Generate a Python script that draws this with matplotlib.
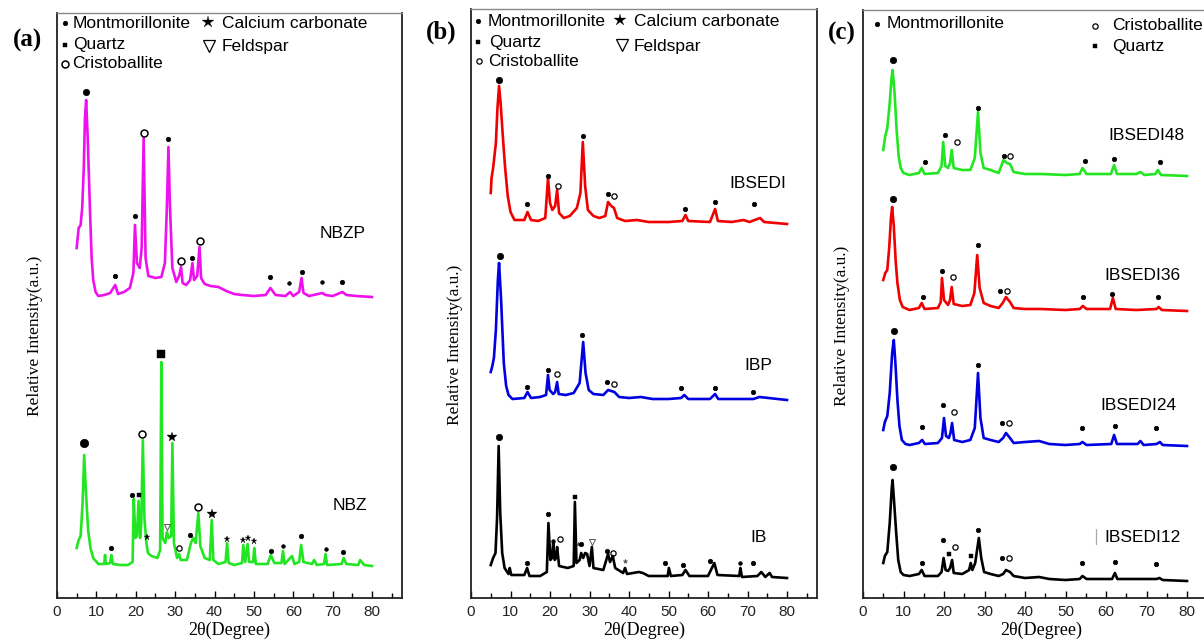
import matplotlib
matplotlib.use('Agg')
import matplotlib.pyplot as plt

W, H = 1204, 640

# ---------------- data ----------------
# traces: (2theta, height above the x axis in pixels)
NBZP = [(5.0, 350), (5.5, 370), (6.0, 373), (6.4, 390), (6.8, 430), (7.1, 480), (7.4, 498), (7.8, 460),
        (8.4, 385), (8.8, 340), (9.2, 318), (9.8, 306), (10.5, 302), (12, 303), (13.5, 305), (14.8, 313),
        (15.5, 304), (17, 306), (18.5, 310), (19.4, 325), (19.8, 373), (20.3, 335), (21.0, 330),
        (21.5, 350), (22.0, 460), (22.5, 340), (23.2, 322), (25, 320), (26.5, 321), (27.4, 335),
        (27.9, 390), (28.3, 451), (28.7, 390), (29.3, 330), (30.3, 316), (31.0, 322), (31.5, 331),
        (31.9, 315), (32.8, 313), (33.8, 318), (34.4, 335), (34.8, 318), (35.6, 322), (36.2, 351),
        (36.6, 320), (37.5, 314), (39, 312), (41, 311), (43, 307), (45, 304), (47, 303),
        (50, 302), (53, 303), (54.2, 310), (55.5, 303), (58, 302), (59.2, 306), (60, 302),
        (61.5, 306), (62.1, 320), (62.6, 305), (64, 302), (67.4, 305), (68.2, 303), (70, 302),
        (72.5, 306), (73.5, 303), (76, 302), (80, 301)]
NBZ = [(5.0, 50), (5.5, 58), (6.0, 62), (6.5, 95), (6.9, 143), (7.3, 110), (7.9, 68), (8.5, 50),
       (9.2, 40), (10.5, 34), (12.0, 34), (12.2, 43), (12.4, 34), (13.5, 35), (13.8, 43), (14.2, 34),
       (16, 33), (18, 33), (19.2, 36), (19.5, 99), (19.9, 60), (20.3, 62), (20.7, 97), (21.1, 60),
       (21.4, 75), (21.8, 158), (22.2, 80), (22.7, 55), (23.1, 45), (24, 42), (25.5, 40),
       (26.2, 48), (26.5, 236), (26.8, 60), (27.5, 55), (27.9, 66), (28.4, 60), (29.0, 62),
       (29.3, 155), (29.7, 55), (30.5, 40), (31.0, 44), (31.4, 38), (33, 38), (34.0, 55),
       (34.6, 60), (35.2, 55), (35.9, 85), (36.4, 52), (37.5, 40), (38.8, 38), (39.3, 78),
       (39.7, 38), (41, 34), (42.8, 36), (43.2, 55), (43.6, 35), (45, 33), (47.0, 35), (47.3, 53),
       (47.8, 36), (48.4, 54), (48.8, 36), (49.8, 36), (50.1, 50), (50.5, 34), (53.5, 34),
       (54.3, 43), (55.2, 35), (57.0, 35), (57.4, 47), (57.8, 34), (59.7, 42), (60.3, 34),
       (61.5, 36), (62.0, 53), (62.6, 36), (64.8, 34), (65.3, 38), (66, 33), (67.8, 34),
       (68.2, 44), (68.6, 33), (72.3, 34), (72.8, 40), (73.5, 34), (76.5, 33), (77, 38),
       (78, 33), (80, 32)]

IBSEDI = [(5.0, 405), (5.2, 420), (5.6, 430), (6.3, 455), (6.7, 490), (7.1, 512), (7.5, 495),
          (8.0, 465), (8.6, 432), (9.3, 402), (10.0, 386), (11.0, 378), (13.5, 378), (14.3, 386),
          (15.2, 378), (17, 377), (18.8, 380), (19.5, 420), (20.0, 395), (20.6, 388), (21.3, 392),
          (21.8, 408), (22.3, 385), (23.5, 380), (25, 382), (26.8, 390), (27.7, 405), (28.3, 456),
          (28.9, 412), (29.6, 388), (31, 382), (32.5, 380), (34.0, 382), (34.7, 396), (35.5, 392),
          (36.2, 390), (37.0, 380), (39, 377), (42, 378), (45, 376), (50, 376), (53.5, 377),
          (54.3, 383), (55, 377), (60.5, 376), (61.8, 389), (62.5, 377), (66, 376), (69, 378),
          (70.5, 376), (73.2, 380), (74.2, 376), (80, 374)]
IBP = [(5.0, 226), (5.4, 232), (5.8, 240), (6.3, 268), (6.8, 318), (7.1, 335), (7.6, 300),
       (8.3, 235), (8.9, 212), (9.5, 203), (10.5, 199), (13.5, 200), (14.3, 206), (15.2, 200),
       (17.5, 201), (19.0, 203), (19.5, 223), (19.9, 208), (20.8, 204), (21.3, 206), (21.8, 216),
       (22.2, 204), (24, 203), (26, 205), (27.5, 215), (28.4, 256), (29.0, 225), (29.8, 208),
       (31, 204), (33.5, 203), (34.7, 208), (35.5, 207), (36.3, 206), (37.5, 201), (40, 200),
       (43, 201), (46, 199), (50, 199), (53.2, 200), (54.0, 203), (55, 199), (60.5, 199),
       (61.8, 204), (62.6, 199), (68, 199), (71.5, 199), (73, 201), (80, 198)]
IB = [(5.0, 33), (5.6, 40), (6.2, 45), (6.6, 80), (7.0, 152), (7.4, 85), (7.9, 45), (8.5, 30),
      (9.5, 24), (9.8, 30), (10.2, 23), (13.5, 23), (14.2, 30), (14.8, 22), (17.5, 22), (19.2, 26),
      (19.6, 75), (20.1, 38), (20.5, 40), (20.8, 55), (21.2, 38), (21.5, 40), (21.8, 51),
      (22.3, 32), (24.5, 30), (26.0, 32), (26.3, 96), (26.7, 35), (27.5, 38), (27.9, 45),
      (28.4, 40), (28.9, 45), (29.4, 44), (30.0, 32), (30.6, 51), (31.0, 30), (33.5, 28),
      (34.7, 44), (35.2, 36), (35.9, 42), (36.5, 30), (38.5, 25), (39.0, 30), (39.5, 24),
      (42.5, 26), (43.5, 25), (45, 22), (49.8, 22), (50.1, 30), (50.6, 22), (53.5, 23),
      (54.3, 28), (55.3, 22), (60.0, 22), (61.6, 35), (62.4, 23), (67.9, 22), (68.2, 30),
      (68.6, 21), (72.5, 22), (73.5, 26), (74.5, 21), (75.6, 25), (76.2, 21), (80, 20)]

IBSEDI48 = [(5.0, 448), (5.5, 462), (6.0, 470), (6.6, 495), (7.0, 518), (7.3, 528), (7.8, 505),
            (8.3, 468), (8.8, 442), (9.3, 430), (10.0, 425), (11.5, 423), (13.8, 425), (14.5, 430),
            (15.2, 424), (18.5, 425), (19.4, 432), (19.8, 456), (20.3, 432), (21.0, 430), (21.5, 435),
            (21.9, 448), (22.4, 430), (24.5, 428), (26.5, 428), (27.6, 440), (28.4, 486),
            (29.0, 445), (29.8, 430), (31.5, 428), (33.5, 425), (34.7, 438), (35.5, 435),
            (36.3, 434), (37.2, 426), (40, 424), (44, 424), (50, 423), (53.5, 424), (54.2, 430),
            (55.2, 424), (61.2, 424), (62.0, 433), (62.7, 424), (67.5, 424), (68.5, 426),
            (69.5, 423), (72.2, 424), (72.8, 428), (73.6, 423), (80, 422)]
IBSEDI36 = [(5.0, 318), (5.5, 325), (6.0, 328), (6.5, 352), (6.9, 380), (7.2, 391), (7.6, 372),
            (8.1, 335), (8.5, 315), (9.1, 298), (9.8, 291), (11.5, 288), (13.8, 290), (14.5, 295),
            (15.2, 289), (18.5, 290), (19.2, 296), (19.5, 320), (20.0, 298), (21.0, 293), (21.5, 298),
            (21.9, 311), (22.4, 294), (24.5, 292), (26.5, 293), (27.5, 305), (28.2, 343),
            (28.8, 310), (29.8, 295), (31.5, 292), (33.5, 290), (34.5, 295), (35.3, 301),
            (36.3, 296), (37.2, 290), (40, 289), (44, 289), (50, 288), (53.5, 289), (54.3, 292),
            (55.2, 289), (61.0, 289), (61.7, 300), (62.4, 289), (67.5, 288), (72.5, 289),
            (73.0, 291), (73.8, 288), (80, 287)]
IBSEDI24 = [(5.0, 168), (5.4, 176), (6.0, 182), (6.6, 205), (7.2, 245), (7.6, 258), (8.0, 235),
            (8.5, 198), (9.0, 172), (9.6, 158), (10.5, 154), (11.5, 153), (13.8, 155), (14.6, 158),
            (15.3, 154), (18.5, 155), (19.5, 160), (20.0, 180), (20.5, 162), (21.2, 160), (21.6, 165),
            (22.0, 175), (22.5, 158), (24.5, 156), (26.5, 158), (27.6, 170), (28.4, 225),
            (29.0, 180), (29.8, 160), (31.5, 158), (33.5, 156), (34.6, 160), (35.3, 165),
            (36.3, 160), (37.2, 155), (40, 156), (43.5, 157), (46, 154), (50, 153), (53.5, 154),
            (54.2, 156), (55.2, 153), (61.3, 154), (62.0, 163), (62.7, 154), (67.8, 154),
            (68.5, 157), (69.3, 153), (72.5, 154), (73.3, 156), (74, 153), (80, 152)]
IBSEDI12 = [(5.0, 35), (5.4, 42), (6.0, 46), (6.6, 75), (7.1, 110), (7.3, 118), (7.7, 95),
            (8.2, 65), (8.7, 38), (9.3, 26), (10.0, 23), (11.5, 22), (13.8, 24), (14.5, 28),
            (15.2, 22), (18.5, 22), (19.4, 26), (19.9, 40), (20.4, 28), (21.0, 27), (21.5, 30),
            (22.0, 38), (22.4, 25), (24.5, 24), (26.2, 28), (26.6, 35), (27.0, 28), (27.7, 35),
            (28.6, 60), (29.2, 40), (29.9, 26), (31.5, 24), (33.5, 22), (34.6, 24), (35.3, 28),
            (36.3, 26), (37.2, 22), (40, 20), (43.5, 21), (46, 19), (50, 18), (53.5, 19),
            (54.2, 22), (55.2, 19), (61.5, 19), (62.2, 25), (62.8, 19), (68.5, 19), (72.5, 19),
            (73.2, 20), (74, 18), (80, 17)]

# phase markers: (2theta, height, kind)
# M montmorillonite, S cristoballite, Q quartz, C calcium carbonate, F feldspar
a_marks = [(7.4, 506, 'M+'), (14.8, 322, 'M'), (19.8, 382, 'M'), (22.0, 465, 'S'), (28.3, 459, 'M'),
           (31.5, 337, 'S'), (34.4, 340, 'M'), (36.2, 357, 'S'), (54.2, 321, 'M'), (59.0, 315, 'M-'),
           (62.1, 326, 'M'), (67.4, 316, 'M-'), (72.3, 316, 'M'),
           (6.9, 155, 'M++'), (13.7, 50, 'M'), (19.1, 103, 'M'), (20.9, 103, 'Q'), (21.7, 164, 'S'),
           (22.9, 61, 'C'), (26.5, 244, 'Q+'), (27.9, 71, 'F'), (29.3, 161, 'C+'), (31.0, 50, 'S-'),
           (33.9, 63, 'M'), (35.8, 91, 'S'), (39.3, 84, 'C+'), (43.2, 59, 'C'), (47.3, 58, 'C'),
           (48.5, 60, 'C'), (50.1, 57, 'C'), (54.3, 47, 'M'), (57.4, 52, 'M-'), (62.0, 62, 'M'),
           (68.2, 49, 'M-'), (72.7, 46, 'M')]
b_marks = [(7.1, 518, 'M+'), (14.3, 394, 'M'), (19.5, 422, 'M'), (21.9, 412, 'S-'), (28.4, 462, 'M'),
           (34.6, 404, 'M'), (36.2, 402, 'S-'), (54.3, 389, 'M'), (61.8, 396, 'M'), (71.6, 394, 'M'),
           (7.3, 342, 'M+'), (14.3, 211, 'M'), (19.4, 228, 'M'), (21.8, 224, 'S-'), (28.2, 263, 'M'),
           (34.5, 216, 'M'), (36.1, 214, 'S-'), (53.1, 210, 'M'), (61.8, 210, 'M'), (71.3, 206, 'M'),
           (7.1, 161, 'M+'), (14.3, 35, 'M'), (19.5, 84, 'M'), (20.8, 57, 'M-'), (22.5, 59, 'S-'),
           (26.3, 101, 'Q'), (27.1, 54, 'C-'), (27.9, 54, 'M'), (30.6, 56, 'F'), (34.4, 47, 'M'),
           (35.9, 45, 'S-'), (39.0, 37, 'C-'), (49.1, 35, 'M'), (53.7, 33, 'M'), (60.5, 37, 'M'),
           (68.1, 35, 'M-'), (71.3, 35, 'M')]
c_marks = [(7.5, 538, 'M+'), (15.3, 436, 'M'), (20.2, 463, 'M'), (23.1, 456, 'S-'), (28.4, 490, 'M'),
           (34.7, 442, 'M'), (36.3, 442, 'S-'), (54.8, 437, 'M'), (62.0, 439, 'M'), (73.3, 436, 'M'),
           (7.5, 399, 'M+'), (14.7, 301, 'M'), (19.6, 327, 'M'), (22.2, 321, 'S-'), (28.4, 353, 'M'),
           (33.8, 307, 'M'), (35.6, 307, 'S-'), (54.3, 301, 'M'), (61.5, 304, 'M'), (72.8, 301, 'M'),
           (7.6, 267, 'M+'), (14.6, 171, 'M'), (19.7, 193, 'M'), (22.5, 186, 'S-'), (28.4, 233, 'M'),
           (34.3, 175, 'M'), (36.0, 175, 'S-'), (54.0, 170, 'M'), (62.2, 172, 'M'), (72.3, 170, 'M'),
           (7.4, 131, 'M+'), (14.6, 35, 'M'), (19.7, 58, 'M'), (21.2, 44, 'Q'), (22.6, 51, 'S-'),
           (26.6, 42, 'Q'), (28.4, 68, 'M'), (34.3, 40, 'M'), (36.0, 40, 'S-'), (54.0, 35, 'M'),
           (62.3, 36, 'M'), (72.3, 34, 'M')]

# sample names: (name, 2theta, height)
a_names = [('NBZP', 72.6, 365), ('NBZ', 74.4, 92)]
b_names = [('IBSEDI', 72.7, 415), ('IBP', 72.7, 233), ('IB', 72.9, 61)]
c_names = [('IBSEDI48', 70.1, 462), ('IBSEDI36', 69.1, 323), ('IBSEDI24', 67.9, 193), ('IBSEDI12', 68.9, 61)]

# ---------------- styles ----------------
STYLE = {
    'M':   dict(marker='o', ms=3.2, mfc='k', mec='k', mew=0.5),
    'M-':  dict(marker='o', ms=2.6, mfc='k', mec='k', mew=0.5),
    'M+':  dict(marker='o', ms=4.6, mfc='k', mec='k', mew=0.5),
    'M++': dict(marker='o', ms=6.0, mfc='k', mec='k', mew=0.5),
    'S':   dict(marker='o', ms=5.0, mfc='none', mec='k', mew=1.1),
    'S-':  dict(marker='o', ms=3.8, mfc='none', mec='k', mew=0.9),
    'Q':   dict(marker='s', ms=3.2, mfc='k', mec='k', mew=0.3),
    'Q+':  dict(marker='s', ms=6.0, mfc='k', mec='k', mew=0.3),
    'C':   dict(marker='*', ms=4.5, mfc='k', mec='k', mew=0.2),
    'C-':  dict(marker='*', ms=3.5, mfc='#444444', mec='#444444', mew=0.2),
    'C+':  dict(marker='*', ms=7.5, mfc='k', mec='k', mew=0.2),
    'F':   dict(marker='v', ms=5.0, mfc='none', mec='#555555', mew=0.7),
    'CL':  dict(marker='*', ms=9.0, mfc='k', mec='k', mew=0.2),
    'FL':  dict(marker='v', ms=8.0, mfc='none', mec='k', mew=0.9),
}

SANS = ['Liberation Sans', 'DejaVu Sans']
SERIF = ['Liberation Serif', 'DejaVu Serif']

fig = plt.figure(figsize=(W / 100, H / 100), dpi=100)


def rect(l, t, r, b):
    return [l / W, 1 - b / H, (r - l) / W, (b - t) / H]


def make_axes(l, t, r, b, scale):
    ax = fig.add_axes(rect(l, t, r, b))
    ax.set_xlim(0, (r - l) / scale)
    ax.set_ylim(0, b - t)
    ax.set_yticks([])
    ax.set_xticks(range(0, 81, 10))
    ax.set_xticks(range(5, 90, 10), minor=True)
    ax.tick_params(axis='x', which='both', direction='in', width=1.0, pad=5)
    ax.tick_params(axis='x', which='major', length=5)
    ax.tick_params(axis='x', which='minor', length=3.5)
    for lab in ax.get_xticklabels():
        lab.set_fontfamily(SANS)
        lab.set_fontsize(11)
        lab.set_color('#222222')
    for s in ['left', 'bottom', 'right']:
        ax.spines[s].set_linewidth(1.3)
        ax.spines[s].set_color('#222222')
    ax.spines['top'].set_linewidth(1.0)
    ax.spines['top'].set_color('#888888')
    ax.set_xlabel('2θ(Degree)', fontfamily=SERIF, fontsize=13, labelpad=2)
    return ax


def draw(ax, trace, color):
    xs = [p[0] for p in trace]
    ys = [p[1] for p in trace]
    ax.plot(xs, ys, color=color, lw=1.9, solid_joinstyle='round')


def marks(ax, lst):
    for x, y, k in lst:
        ax.plot([x], [y], ls='none', clip_on=False, **STYLE[k])


def names(ax, lst):
    for txt, x, y in lst:
        ax.text(x, y, txt, ha='center', va='center', fontfamily=SANS, fontsize=12.5)


def legend_entry(kind, mx, my, txt, tx, ty):
    fig.add_artist(plt.Line2D([mx / W], [1 - my / H], ls='none', transform=fig.transFigure,
                              **STYLE[kind]))
    fig.text(tx / W, 1 - ty / H, txt, ha='left', va='center', fontfamily=SANS, fontsize=12.5)


# ---------------- panel (a) ----------------
ax = make_axes(57, 13, 402, 598, 3.9375)
draw(ax, NBZP, '#EE10EE')
draw(ax, NBZ, '#22E622')
marks(ax, a_marks)
names(ax, a_names)
legend_entry('M', 65, 23, 'Montmorillonite', 73, 23)
legend_entry('CL', 208, 22, 'Calcium carbonate', 222, 24)
legend_entry('Q', 65, 45, 'Quartz', 73, 44)
legend_entry('FL', 209, 46, 'Feldspar', 222, 47)
legend_entry('S', 65, 64, 'Cristoballite', 72, 64)
fig.text(35 / W, 1 - 336 / H, 'Relative Intensity(a.u.)', rotation=90, ha='center', va='center',
         fontfamily=SERIF, fontsize=12.5)
fig.text(27 / W, 1 - 40 / H, '(a)', ha='center', va='center', fontfamily=SERIF, fontsize=18,
         fontweight='bold')

# ---------------- panel (b) ----------------
ax = make_axes(471, 9, 817, 598, 3.95)
draw(ax, IBSEDI, '#F00000')
draw(ax, IBP, '#0000E0')
draw(ax, IB, '#000000')
marks(ax, b_marks)
names(ax, b_names)
legend_entry('M', 478, 21, 'Montmorillonite', 488, 21)
legend_entry('CL', 620, 20, 'Calcium carbonate', 634, 21)
legend_entry('Q', 478, 42, 'Quartz', 489, 42)
legend_entry('FL', 622, 45, 'Feldspar', 634, 46)
legend_entry('S-', 479, 61, 'Cristoballite', 488, 62)
fig.text(455 / W, 1 - 345 / H, 'Relative Intensity(a.u.)', rotation=90, ha='center', va='center',
         fontfamily=SERIF, fontsize=12.5)
fig.text(441 / W, 1 - 32 / H, '(b)', ha='center', va='center', fontfamily=SERIF, fontsize=18,
         fontweight='bold')

# ---------------- panel (c) ----------------
ax = make_axes(863, 10, 1219, 598, 4.05)
draw(ax, IBSEDI48, '#22E622')
draw(ax, IBSEDI36, '#F00000')
draw(ax, IBSEDI24, '#0000E0')
draw(ax, IBSEDI12, '#000000')
marks(ax, c_marks)
names(ax, c_names)
ax.text(57.5, 61, '|', ha='center', va='center', color='#aaaaaa', fontsize=11)
legend_entry('M', 877, 24, 'Montmorillonite', 887, 24)
legend_entry('S-', 1095, 26, 'Cristoballite', 1112, 26)
legend_entry('Q', 1095, 46, 'Quartz', 1112, 46)
fig.text(842 / W, 1 - 326 / H, 'Relative Intensity(a.u.)', rotation=90, ha='center', va='center',
         fontfamily=SERIF, fontsize=12.5)
fig.text(842 / W, 1 - 33 / H, '(c)', ha='center', va='center', fontfamily=SERIF, fontsize=18,
         fontweight='bold')

fig.savefig('out.png', dpi=100)
